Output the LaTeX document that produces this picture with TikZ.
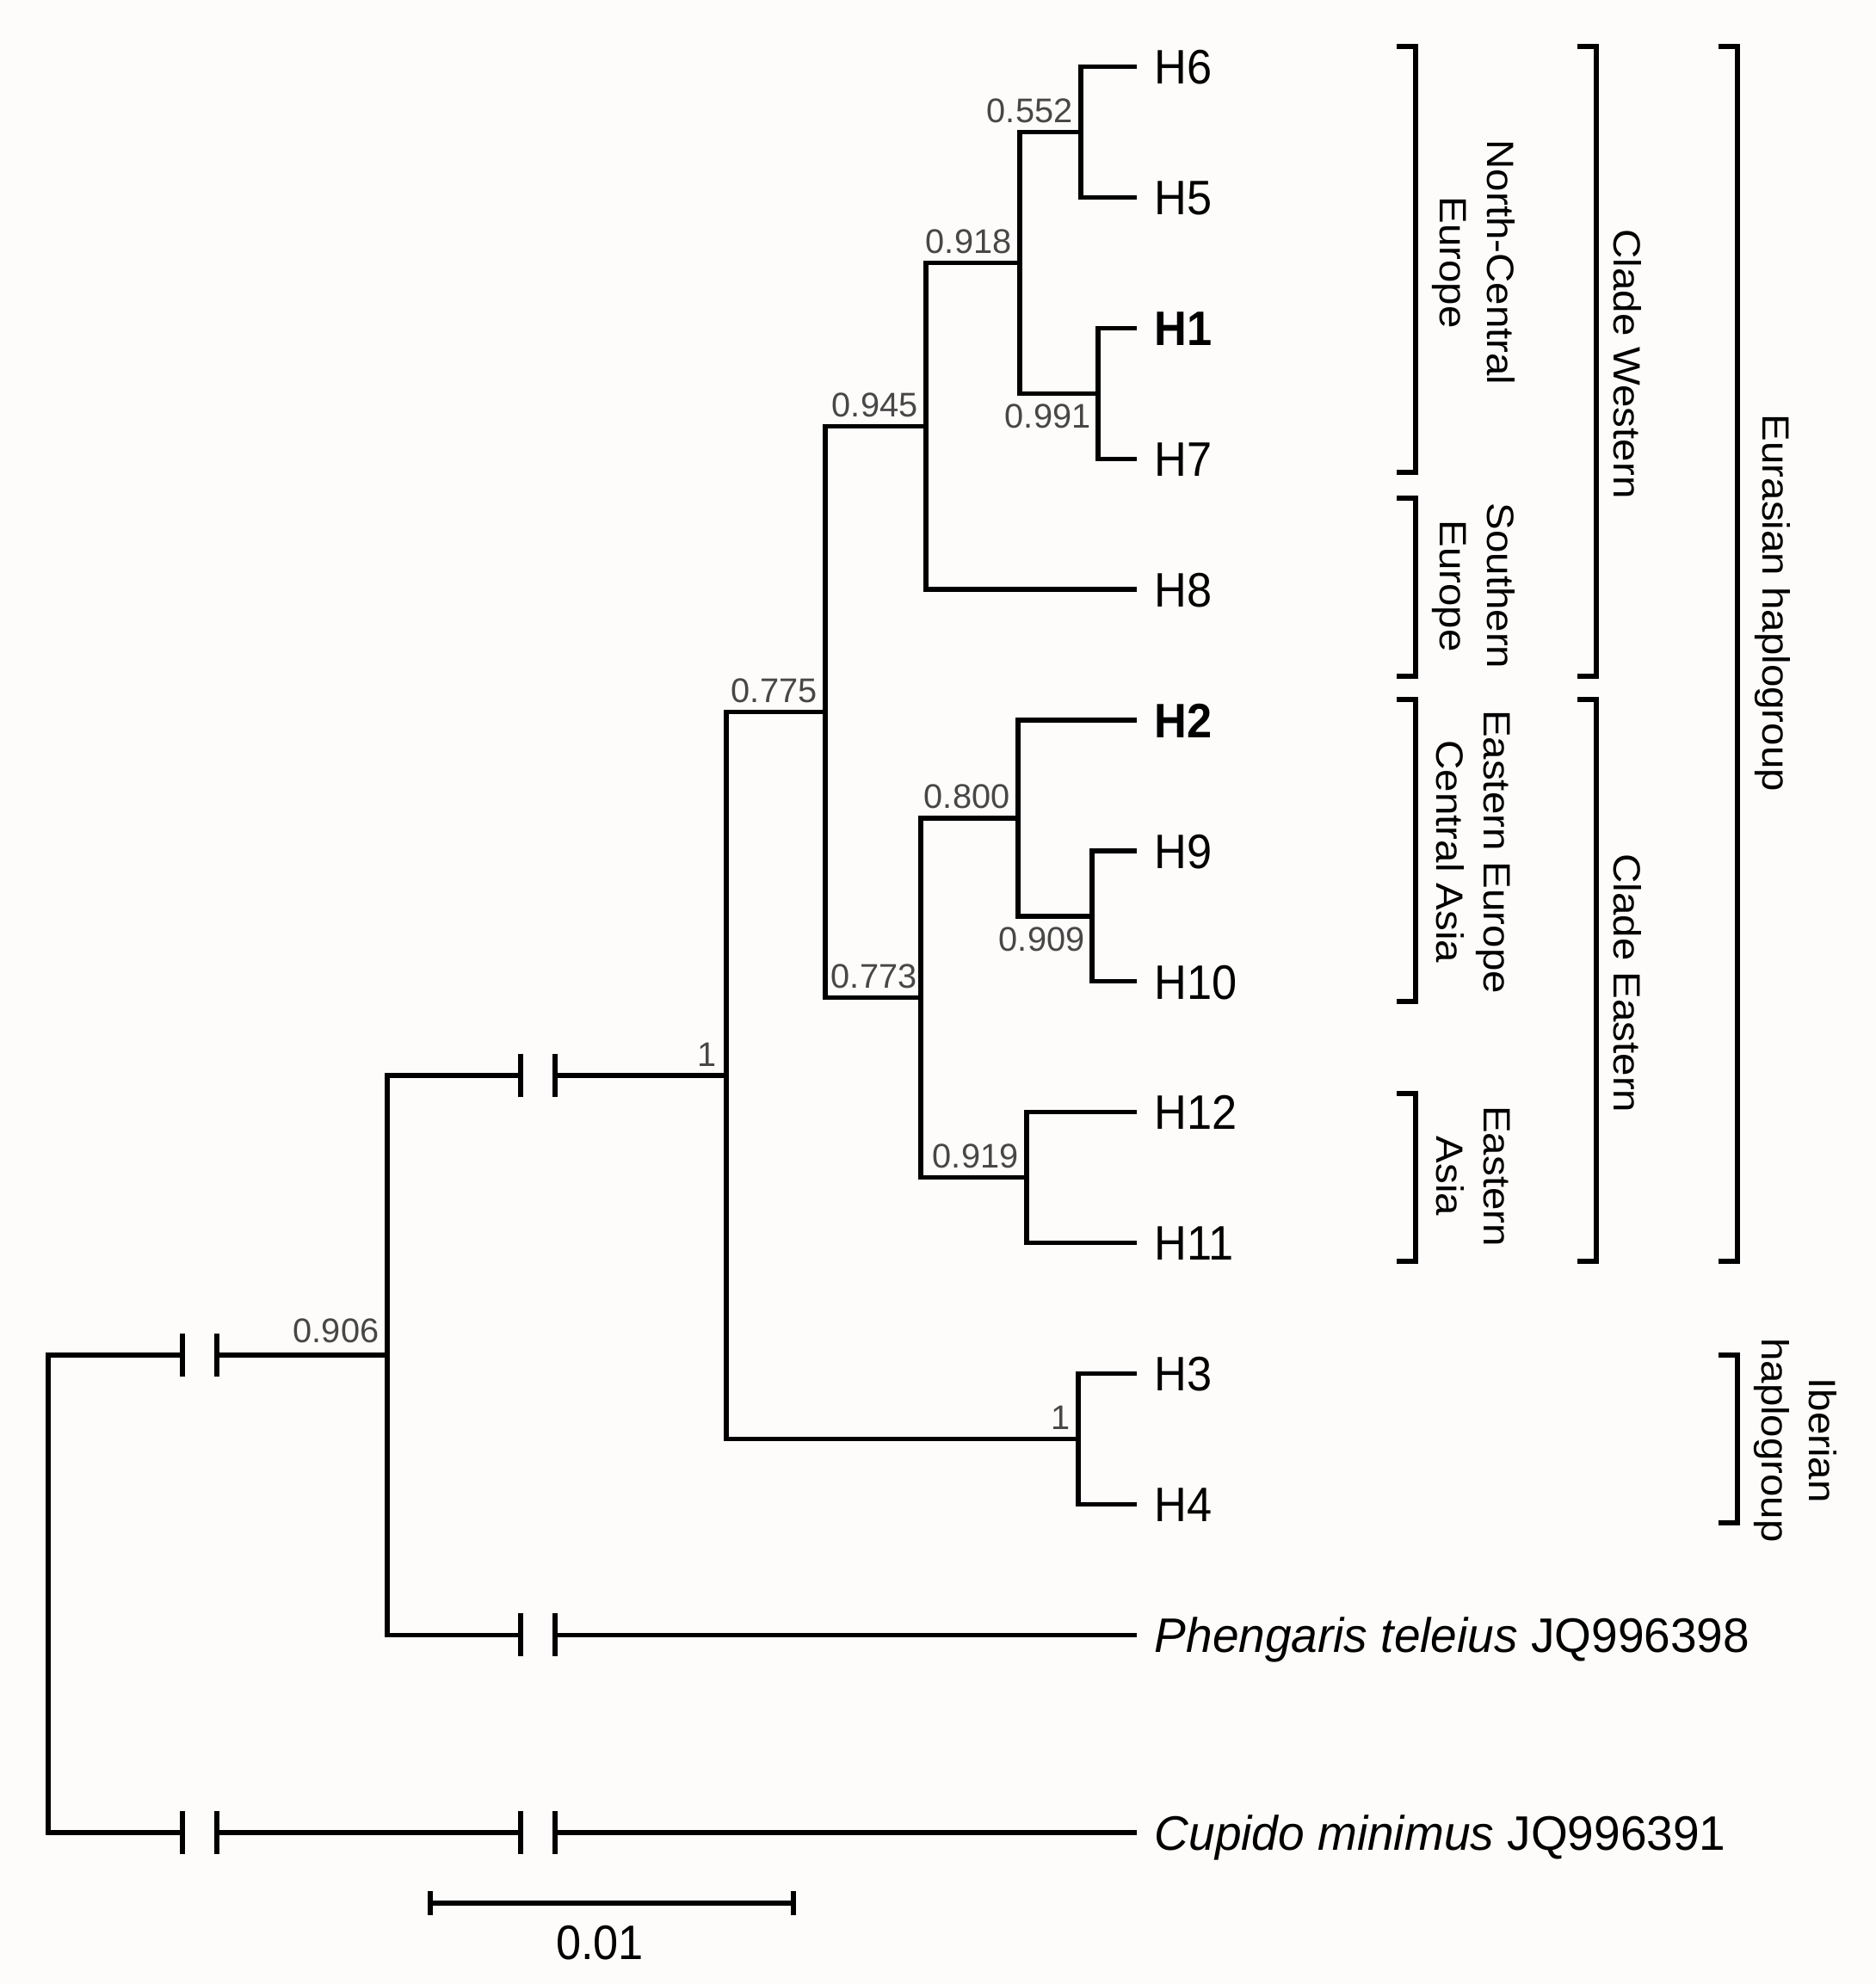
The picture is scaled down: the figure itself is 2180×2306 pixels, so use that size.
\documentclass[tikz,border=0pt]{standalone}
\usepackage{fontspec}
\usepackage{graphicx}
\setmainfont{Liberation Sans}
\newcommand{\lbl}[1]{\scalebox{0.93}[1]{#1}}
\newcommand{\lbllong}[1]{\scalebox{0.978}[1]{#1}}
\begin{document}
\begin{tikzpicture}[x=0.01cm,y=-0.01cm,
  br/.style={line width=1.5pt, line join=miter, line cap=rect},
  tick/.style={line width=1.5pt},
  bkt/.style={line width=1.6pt, line join=miter},
  leaf/.style={anchor=base west, xshift=0.23cm, yshift=-0.202cm, inner sep=0pt, font=\fontsize{16}{19}\selectfont},
  supA/.style={anchor=south east, xshift=-0.09cm, yshift=0.10cm, inner sep=0pt, text=black!72, font=\fontsize{11.3}{13}\selectfont},
  supB/.style={anchor=north east, xshift=-0.08cm, yshift=-0.12cm, inner sep=0pt, text=black!72, font=\fontsize{11.3}{13}\selectfont},
  grp/.style={rotate=-90, yscale=0.93, align=center, inner sep=0pt, font=\fontsize{13.5}{16.8}\selectfont}]
\fill[color={rgb,255:red,253;green,252;blue,251}] (0,0) rectangle (2180,2306);
\useasboundingbox (0,0) rectangle (2180,2306);

% leaf tips
\coordinate (tH6) at (1318,77.5);
\coordinate (tH5) at (1318,229.4);
\coordinate (tH1) at (1318,381.3);
\coordinate (tH7) at (1318,533.2);
\coordinate (tH8) at (1318,685.1);
\coordinate (tH2) at (1318,837.0);
\coordinate (tH9) at (1318,988.9);
\coordinate (tH10) at (1318,1140.8);
\coordinate (tH12) at (1318,1292.7);
\coordinate (tH11) at (1318,1444.6);
\coordinate (tH3) at (1318,1596.5);
\coordinate (tH4) at (1318,1748.4);
\coordinate (tPt) at (1318,1900.3);
\coordinate (tCm) at (1318,2130);

% internal nodes
\coordinate (n552) at (1256,153.5);
\coordinate (n991) at (1276,457.3);
\coordinate (n918) at (1185,305.4);
\coordinate (n945) at (1076,495.3);
\coordinate (n909) at (1269,1064.9);
\coordinate (n800) at (1183,950.9);
\coordinate (n919) at (1193,1368.7);
\coordinate (n773) at (1070,1159.8);
\coordinate (n775) at (959,827.5);
\coordinate (n34) at (1253,1672.5);
\coordinate (n1) at (844,1250);
\coordinate (n906) at (450,1575);
\coordinate (root) at (56,1852);

% break points
\coordinate (b1a) at (605,1250);
\coordinate (b1b) at (645,1250);
\coordinate (b2a) at (605,1900.3);
\coordinate (b2b) at (645,1900.3);
\coordinate (b3a) at (212,1575);
\coordinate (b3b) at (252,1575);
\coordinate (b4a) at (212,2130);
\coordinate (b4b) at (252,2130);
\coordinate (b5a) at (605,2130);
\coordinate (b5b) at (645,2130);

% branches
\draw[br] (tH6) -| (n552) |- (tH5);
\draw[br] (tH1) -| (n991) |- (tH7);
\draw[br] (n552) -| (n918) |- (n991);
\draw[br] (n918) -| (n945) |- (tH8);
\draw[br] (tH9) -| (n909) |- (tH10);
\draw[br] (tH2) -| (n800) |- (n909);
\draw[br] (tH12) -| (n919) |- (tH11);
\draw[br] (n800) -| (n773) |- (n919);
\draw[br] (n945) -| (n775) |- (n773);
\draw[br] (tH3) -| (n34) |- (tH4);
\draw[br] (n775) -| (n1) |- (n34);
\draw[br] (b1a) -| (n906) |- (b2a);
\draw[br] (b1b) -- (n1);
\draw[br] (b2b) -- (tPt);
\draw[br] (b3a) -| (root) |- (b4a);
\draw[br] (b3b) -- (n906);
\draw[br] (b4b) -- (b5a);
\draw[br] (b5b) -- (tCm);

% break ticks
\foreach \b in {b1a,b1b,b2a,b2b,b3a,b3b,b4a,b4b,b5a,b5b}
  \draw[tick] (\b) ++(0,-25) -- ++(0,50);

% leaf labels
\node[leaf] (H6) at (tH6) {\lbl{H6}};
\node[leaf] (H5) at (tH5) {\lbl{H5}};
\node[leaf] (H1) at (tH1) {\lbl{\textbf{H1}}};
\node[leaf] (H7) at (tH7) {\lbl{H7}};
\node[leaf] (H8) at (tH8) {\lbl{H8}};
\node[leaf] (H2) at (tH2) {\lbl{\textbf{H2}}};
\node[leaf] (H9) at (tH9) {\lbl{H9}};
\node[leaf] (H10) at (tH10) {\lbl{H10}};
\node[leaf] (H12) at (tH12) {\lbl{H12}};
\node[leaf] (H11) at (tH11) {\lbl{H11}};
\node[leaf] (H3) at (tH3) {\lbl{H3}};
\node[leaf] (H4) at (tH4) {\lbl{H4}};
\node[leaf] (Pt) at (tPt) {\lbllong{\textit{Phengaris teleius} JQ996398}};
\node[leaf] (Cm) at (tCm) {\lbllong{\textit{Cupido minimus} JQ996391}};

% support values
\node[supA] (s552) at (n552) {0.552};
\node[supA] (s918) at (n918) {0.918};
\node[supB] (s991) at (n991) {0.991};
\node[supA] (s945) at (n945) {0.945};
\node[supA] (s775) at (n775) {0.775};
\node[supA] (s800) at (n800) {0.800};
\node[supB] (s909) at (n909) {0.909};
\node[supA,xshift=0.05cm] (s773) at (n773) {0.773};
\node[supA] (s919) at (n919) {0.919};
\node[supA,xshift=-0.02cm] (s1) at (n1) {1};
\node[supA] (s34) at (n34) {1};
\node[supA,yshift=0.03cm] (s906) at (n906) {0.906};

% brackets
\draw[bkt] (1623,54) -- (1645,54) -- (1645,549) -- (1623,549);
\draw[bkt] (1623,579) -- (1645,579) -- (1645,786) -- (1623,786);
\draw[bkt] (1623,813) -- (1645,813) -- (1645,1164) -- (1623,1164);
\draw[bkt] (1623,1271) -- (1645,1271) -- (1645,1466) -- (1623,1466);
\draw[bkt] (1833,54) -- (1855,54) -- (1855,786) -- (1833,786);
\draw[bkt] (1833,813) -- (1855,813) -- (1855,1466) -- (1833,1466);
\draw[bkt] (1997,54) -- (2019,54) -- (2019,1466) -- (1997,1466);
\draw[bkt] (1997,1575) -- (2019,1575) -- (2019,1770) -- (1997,1770);

% group labels
\node[grp] (gNCE) at (1712,305) {North-Central\\Europe};
\node[grp] (gSE) at (1712,681) {Southern\\Europe};
\node[grp] (gEECA) at (1712,990) {Eastern Europe\\Central Asia};
\node[grp] (gEA) at (1712,1367) {Eastern\\Asia};
\node[grp] (gCW) at (1891,423) {Clade Western};
\node[grp] (gCE) at (1891,1143) {Clade Eastern};
\node[grp] (gEur) at (2060,701) {Eurasian haplogroup};
\node[grp] (gIb) at (2086,1674) {Iberian\\haplogroup};

% scale bar
\coordinate (sb1) at (500,2212);
\coordinate (sb2) at (922,2212);
\draw[br, line cap=butt] (sb1) -- (sb2);
\draw[tick] (sb1) ++(0,-14) -- ++(0,28);
\draw[tick] (sb2) ++(0,-14) -- ++(0,28);
\node[anchor=base, inner sep=0pt, font=\fontsize{16}{19}\selectfont] (sbl) at (697,2277) {\lbl{0.01}};
\end{tikzpicture}
\end{document}
